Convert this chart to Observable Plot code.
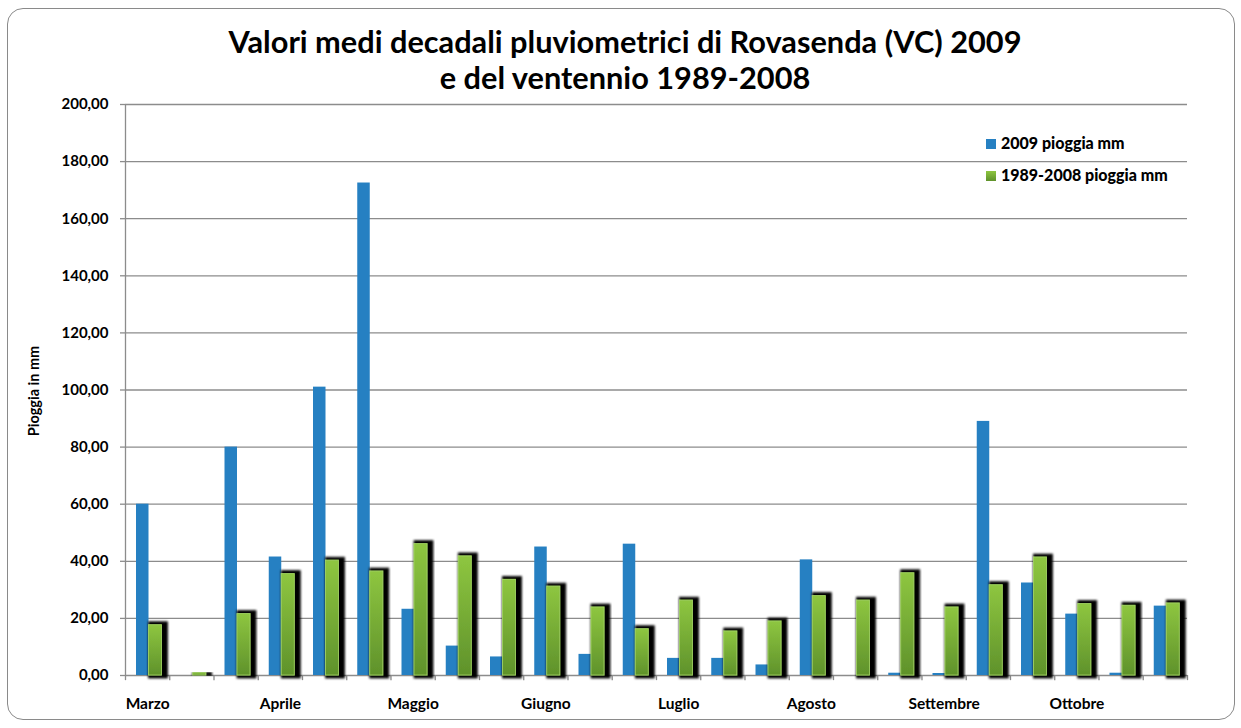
<!DOCTYPE html>
<html>
<head>
<meta charset="utf-8">
<script src="https://cdn.jsdelivr.net/npm/d3@7"></script>
<script src="https://cdn.jsdelivr.net/npm/@observablehq/plot@0.6"></script>
<style>
  html, body { margin: 0; padding: 0; background: #fff; }
  body { width: 1241px; height: 728px; position: relative; overflow: hidden; font-family: Lato, "Open Sans", sans-serif; font-weight: 700; color: #000; }
  #frame { position: absolute; left: 7px; top: 8px; width: 1226px; height: 710px; border: 1.5px solid #8a8a8a; border-radius: 16px; }
  #chart { position: absolute; left: 0; top: 0; }
  #title { position: absolute; left: 0; top: 24px; width: 1250px; text-align: center; font-size: 29px; line-height: 36px; white-space: nowrap; }
  #title span { display: inline-block; transform-origin: center; }
  #ytitle { position: absolute; left: 33px; top: 391px; transform: translate(-50%, -50%) rotate(-90deg); font-size: 14.5px; white-space: nowrap; }
  .leg { position: absolute; left: 986px; font-size: 16px; white-space: nowrap; }
  .leg i { position: absolute; left: 0; width: 10px; height: 10px; }
  .leg b { position: absolute; left: 15px; top: -5px; line-height: 18px; }
</style>
</head>
<body>
<div id="frame"></div>
<div id="chart"></div>
<div id="title"><span id="t1">Valori medi decadali pluviometrici di Rovasenda (VC) 2009</span><br><span id="t2">e del ventennio 1989-2008</span></div>
<div id="ytitle">Pioggia in mm</div>
<div class="leg" style="top:139px"><i style="background:#2680C2"></i><b>2009 pioggia mm</b></div>
<div class="leg" style="top:171px"><i style="background:linear-gradient(#8ec640,#5f922b)"></i><b>1989-2008 pioggia mm</b></div>
<script>
const months = ["Marzo", "Aprile", "Maggio", "Giugno", "Luglio", "Agosto", "Settembre", "Ottobre"];
const decades = months.flatMap(m => [m + " I", m + " II", m + " III"]);
const rain2009 = [60, 0, 80, 41.5, 101, 172.5, 23.2, 10.3, 6.5, 45, 7.4, 46, 6, 6, 3.7, 40.5, 0, 0.8, 0.7, 89, 32.4, 21.5, 0.8, 24.3];
const rainAvg = [17.6, 0.8, 21.5, 35.5, 40.2, 36.4, 46, 41.7, 33.5, 31.1, 23.8, 16.2, 26.2, 15.4, 18.9, 27.8, 26.2, 35.8, 23.8, 31.6, 41.3, 25, 24.4, 25.2];
const yTicks = d3.range(0, 201, 20);

const data2009 = decades.map((d, i) => ({decade: d, value: rain2009[i]}));
const dataAvg = decades.map((d, i) => ({decade: d, value: rainAvg[i]}));
const monthLabel = new Map(decades.map((d, i) => [d, i % 3 === 0 ? months[i / 3] : ""]));

const W = 1241, H = 728, mL = 125, mR = 54, mT = 104, mB = 53;
const bw = (W - mL - mR) / decades.length;
const gray = "#8c8c8c";

const plot = Plot.plot({
  width: W, height: H,
  marginTop: mT, marginBottom: mB, marginLeft: mL, marginRight: mR,
  style: {fontFamily: "Lato, 'Open Sans', sans-serif", fontWeight: "bold", fontSize: "15px", color: "#000", background: "transparent", overflow: "visible"},
  x: {type: "band", domain: decades, padding: 0, round: false, axis: null},
  y: {domain: [0, 200], axis: null},
  marks: [
    Plot.gridY(yTicks, {stroke: gray, strokeOpacity: 1, strokeWidth: 1.3}),
    Plot.ruleX([decades[0]], {x: d => d, dx: -bw / 2, stroke: gray, strokeWidth: 1.3}),
    Plot.ruleX(decades, {x: d => d, dx: -bw / 2, y1: 0, y2: -1.8, stroke: gray, strokeWidth: 1.3}),
    Plot.ruleX([decades[decades.length - 1]], {x: d => d, dx: bw / 2, y1: 0, y2: -1.8, stroke: gray, strokeWidth: 1.3}),
    Plot.barY(data2009, {x: "decade", y: "value", fill: "#2680C2", insetLeft: 11, insetRight: bw - 23.5}),
    Plot.barY(dataAvg, {x: "decade", y: "value", fill: "#76ad36", insetLeft: 23.5, insetRight: bw - 36.5}),
    Plot.axisY({ticks: yTicks, tickSize: 5, tickPadding: 12, stroke: gray, strokeWidth: 1.3, tickFormat: d => d.toFixed(2).replace(".", ","), label: null, fill: "#000"}),
    Plot.axisX({tickSize: 0, tickPadding: 22, tickFormat: d => monthLabel.get(d), label: null, fill: "#000", fontSize: "15.5px"})
  ]
});
document.getElementById("chart").appendChild(plot);

// gradient fill and drop shadow for the 1989-2008 bars
const svg = d3.select(plot);
const defs = svg.insert("defs", ":first-child");
const grad = defs.append("linearGradient").attr("id", "greenGrad").attr("x1", 0).attr("y1", 0).attr("x2", 0).attr("y2", 1);
grad.append("stop").attr("offset", "0%").attr("stop-color", "#8ec640");
grad.append("stop").attr("offset", "100%").attr("stop-color", "#5f922b");
const filt = defs.append("filter").attr("id", "shadow").attr("x", "-60%").attr("y", "-20%").attr("width", "220%").attr("height", "140%");
filt.append("feMorphology").attr("in", "SourceAlpha").attr("operator", "dilate").attr("radius", "2.5 2.5").attr("result", "dil");
filt.append("feOffset").attr("in", "dil").attr("dx", 2.5).attr("dy", 0).attr("result", "off");
filt.append("feGaussianBlur").attr("in", "off").attr("stdDeviation", 1).attr("result", "blur");
const merge = filt.append("feMerge");
merge.append("feMergeNode").attr("in", "blur");
merge.append("feMergeNode").attr("in", "SourceGraphic");
const barGroups = plot.querySelectorAll('g[aria-label="bar"]');
const green = d3.select(barGroups[1]);
green.selectAll("rect").attr("fill", "url(#greenGrad)").attr("stroke", "#a3d565").attr("stroke-width", 0.8).attr("filter", "url(#shadow)");

// fit the title width to the reference
const t1 = document.getElementById("t1");
const scale = 793 / t1.getBoundingClientRect().width;
document.getElementById("title").style.fontSize = (29 * scale) + "px";
</script>
</body>
</html>
